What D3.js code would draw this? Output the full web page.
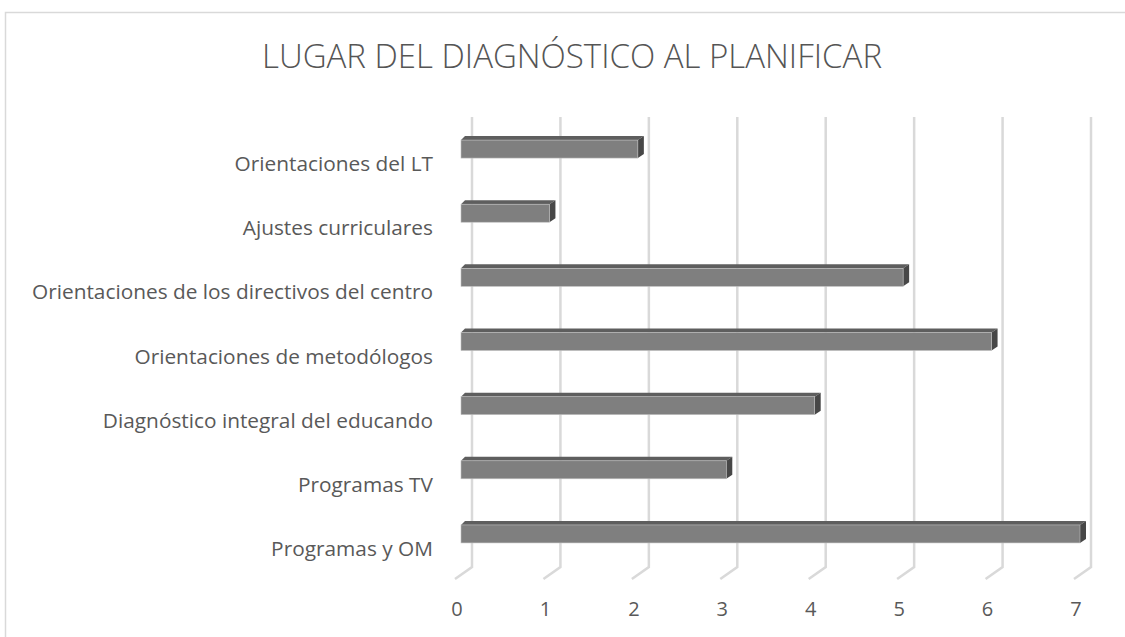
<!DOCTYPE html>
<html><head><meta charset="utf-8">
<script src="https://cdn.jsdelivr.net/npm/d3@7"></script>
<style>body{margin:0;background:#fff}svg{display:block}</style>
</head><body>
<svg id="c" width="1125" height="637"></svg>
<script>
const title = "LUGAR DEL DIAGNÓSTICO AL PLANIFICAR";
const categories = ["Orientaciones del LT","Ajustes curriculares","Orientaciones de los directivos del centro","Orientaciones de metodólogos","Diagnóstico integral del educando","Programas TV","Programas y OM"];
const values = [2,1,5,6,4,3,7];
const ticks = [0,1,2,3,4,5,6,7];

const svg = d3.select("#c");
const FONT = "'Open Sans', 'Noto Sans', sans-serif";
const TXT = "#595959";

// chart frame
svg.append("rect").attr("x",5.5).attr("y",12.5).attr("width",1130).attr("height",640)
  .attr("fill","#fff").attr("stroke","#d9d9d9").attr("stroke-width",1.5);

// scales (back plane)
const xBack = d3.scaleLinear().domain([0,7]).range([472,1091]);
const y = d3.scaleBand().domain(categories).range([117,566]).paddingInner(0.72).paddingOuter(0.36);
const depthDx = -17, depthDy = 12;   // floor depth
const barOff = -11;                   // bar front face offset from back plane
const sideDx = 6, sideDy = -4;        // bar top/side depth
const floorY = 567;

// gridlines
const g = svg.append("g");
ticks.forEach(t => {
  const x = xBack(t);
  g.append("path")
   .attr("d", `M${x},117 L${x},${floorY} L${x+depthDx},${floorY+depthDy}`)
   .attr("fill","none").attr("stroke","#d9d9d9").attr("stroke-width",2.5);
});

// tick labels
svg.append("g").selectAll("text").data(ticks).join("text")
  .attr("x", d => xBack(d) - 15).attr("y", 616)
  .attr("text-anchor","middle").attr("font-family",FONT).attr("font-size",20)
  .attr("fill",TXT).text(d => d);

// bars
const bars = svg.append("g");
categories.forEach((c,i) => {
  const cy = y(c) + y.bandwidth()/2;
  const h = 18;
  const x0 = xBack(0) + barOff, x1 = xBack(values[i]) + barOff;
  const top = cy - h/2, bot = cy + h/2;
  bars.append("path")
    .attr("d", `M${x0},${top} L${x0+sideDx-2},${top+sideDy} L${x1+sideDx},${top+sideDy} L${x1},${top} Z`)
    .attr("fill","#5e5e5e");
  bars.append("path")
    .attr("d", `M${x1},${top} L${x1+sideDx},${top+sideDy} L${x1+sideDx},${bot+sideDy} L${x1},${bot} Z`)
    .attr("fill","#474747");
  bars.append("rect").attr("x",x0).attr("y",top).attr("width",x1-x0).attr("height",h)
    .attr("fill","#7f7f7f").attr("stroke","#bfbfbf").attr("stroke-width",0.6);
});

// category labels
const LS = 20;
const labs = svg.append("g").selectAll("text").data(categories).join("text")
  .attr("x",433).attr("y", d => y(d) + y.bandwidth()/2 + 22)
  .attr("text-anchor","end").attr("font-family",FONT).attr("font-size",LS)
  .attr("fill",TXT).text(d => d);
let maxW = 0;
labs.each(function(){ maxW = Math.max(maxW, this.getComputedTextLength()); });
const k = 401 / maxW;
labs.each(function(){
  const w = this.getComputedTextLength();
  d3.select(this).attr("textLength", w * k).attr("lengthAdjust","spacingAndGlyphs");
});

// title
const tt = svg.append("text").attr("x",572).attr("y",68).attr("text-anchor","middle")
  .attr("font-family",FONT).attr("font-weight",300).attr("font-size",33).attr("fill","#555").text(title);
tt.attr("textLength", 620).attr("lengthAdjust","spacingAndGlyphs");
</script>
</body></html>
